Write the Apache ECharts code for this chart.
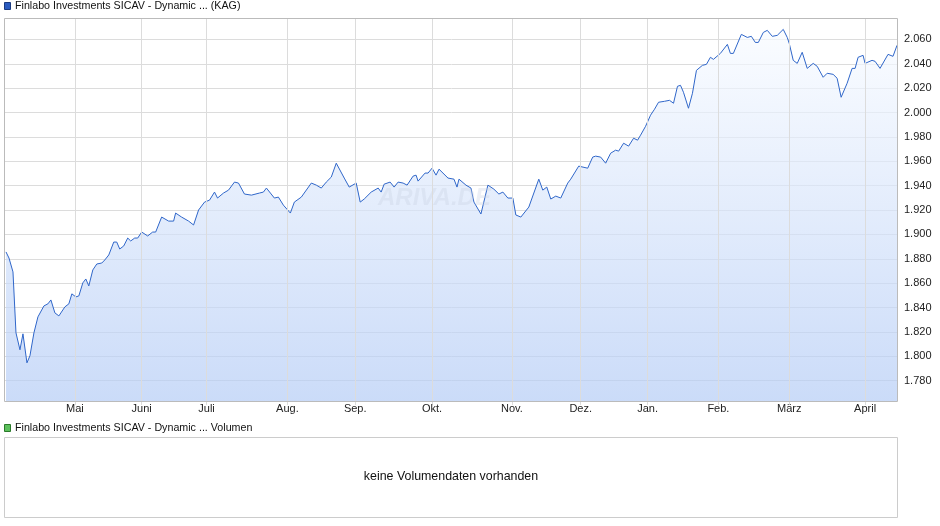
<!DOCTYPE html><html><head><meta charset="utf-8">
<script src="https://cdn.jsdelivr.net/npm/echarts@6/dist/echarts.min.js"></script>
<style>body{margin:0;background:#fff}#c{width:940px;height:526px}</style></head><body><div id="c"></div><script>
// x position along the time axis (trading-time units, 0 = first day) and fund price
const days = [-1,2,6,9,13,16,20,23,27,31,37,41,44,48,52,58,62,65,69,72,76,79,82,86,90,95,98,102,107,110,113,117,121,124,128,131,135,141,146,149,155,162,167,169,175,182,187,192,198,203,208,211,217,222,228,232,238,245,253,257,260,264,268,272,277,284,288,295,305,310,315,320,325,330,332,338,343,350,354,358,365,372,375,378,384,388,392,397,401,407,410,412,419,422,426,430,433,442,448,451,453,460,465,468,475,482,488,493,497,502,507,510,515,523,533,537,541,545,550,555,562,565,573,582,587,590,595,600,605,610,613,618,623,628,632,635,640,645,649,653,659,664,668,672,675,678,683,687,691,697,701,705,708,715,722,725,728,736,742,746,750,753,758,762,767,772,778,782,784,788,792,797,798,802,808,812,818,822,828,832,836,842,847,850,853,858,860,867,870,875,883,885,888,892];
const prices = [1.8856,1.8806,1.8692,1.8192,1.8053,1.8184,1.7946,1.8004,1.8192,1.8323,1.8413,1.8430,1.8462,1.8356,1.8331,1.8405,1.8430,1.8512,1.8487,1.8495,1.8602,1.8634,1.8577,1.8708,1.8757,1.8765,1.8790,1.8831,1.8937,1.8937,1.8880,1.8905,1.8970,1.8946,1.8970,1.8970,1.9019,1.8987,1.9019,1.9019,1.9142,1.9109,1.9109,1.9175,1.9142,1.9109,1.9077,1.9200,1.9265,1.9281,1.9347,1.9298,1.9339,1.9363,1.9429,1.9421,1.9331,1.9322,1.9339,1.9347,1.9380,1.9339,1.9298,1.9306,1.9240,1.9175,1.9265,1.9306,1.9421,1.9404,1.9380,1.9429,1.9470,1.9584,1.9584,1.9462,1.9388,1.9421,1.9265,1.9290,1.9347,1.9380,1.9347,1.9412,1.9429,1.9388,1.9429,1.9421,1.9404,1.9478,1.9486,1.9437,1.9503,1.9503,1.9543,1.9486,1.9535,1.9462,1.9453,1.9388,1.9453,1.9404,1.9380,1.9265,1.9167,1.9404,1.9371,1.9331,1.9347,1.9298,1.9298,1.9159,1.9142,1.9224,1.9453,1.9363,1.9388,1.9290,1.9314,1.9298,1.9421,1.9453,1.9560,1.9543,1.9634,1.9642,1.9634,1.9584,1.9666,1.9691,1.9683,1.9748,1.9724,1.9789,1.9773,1.9814,1.9887,1.9978,2.0027,2.0084,2.0092,2.0100,2.0076,2.0215,2.0223,2.0166,2.0035,2.0158,2.0346,2.0387,2.0395,2.0453,2.0436,2.0485,2.0559,2.0485,2.0485,2.0641,2.0616,2.0625,2.0575,2.0575,2.0657,2.0674,2.0625,2.0633,2.0682,2.0616,2.0567,2.0428,2.0403,2.0494,2.0502,2.0362,2.0403,2.0379,2.0289,2.0322,2.0313,2.0281,2.0125,2.0240,2.0362,2.0362,2.0453,2.0469,2.0403,2.0428,2.0420,2.0362,2.0477,2.0485,2.0461,2.0551];
const monthPos = [68,135,200,281,349,426,506,575,642,713,784,860];
const monthLabels = ['Mai','Juni','Juli','Aug.','Sep.','Okt.','Nov.','Dez.','Jan.','Feb.','März','April'];
const title = 'Finlabo Investments SICAV - Dynamic ... (KAG)';
const volTitle = 'Finlabo Investments SICAV - Dynamic ... Volumen';
const noVol = 'keine Volumendaten vorhanden';

const font = 'Liberation Sans, Arial, sans-serif';
const ch = echarts.init(document.getElementById('c'));
const labelMap = {}; monthPos.forEach((p,i)=>labelMap[p]=monthLabels[i]);
ch.setOption({
  animation:false,
  grid:{left:5,right:42,top:15,bottom:121},
  xAxis:{type:'value',min:-2,max:893,z:150,
    axisLine:{show:false},
    axisTick:{show:false,customValues:monthPos},
    axisLabel:{customValues:monthPos,formatter:v=>labelMap[v]||'',color:'#222',fontSize:11,fontFamily:font,margin:-2},
    splitLine:{show:true,lineStyle:{color:'#dcdcdc'}}},
  yAxis:{type:'value',position:'right',min:1.76,max:2.08,interval:0.02,
    axisLine:{show:false},axisTick:{show:false},
    axisLabel:{showMinLabel:false,showMaxLabel:false,formatter:v=>v.toFixed(3),color:'#222',fontSize:11,fontFamily:font,margin:6},
    splitLine:{lineStyle:{color:'#dcdcdc'}}},
  series:[{type:'line',data:days.map((d,i)=>[d,prices[i]]),symbol:'none',
    lineStyle:{color:'#2f66c9',width:1},
    areaStyle:{origin:'start',color:new echarts.graphic.LinearGradient(0,0,0,1,[{offset:0,color:'#f8fbff'},{offset:1,color:'#b3cbf5'}])}}],
  graphic:[
    {type:'rect',z:100,shape:{x:0,y:401,width:898,height:5},style:{fill:'#fff'}},
    {type:'rect',z:200,shape:{x:0,y:13,width:898,height:5},style:{fill:'#fff'}},
    {type:'text',z:90,left:378,top:186,style:{text:'ARIVA.DE',fill:'rgba(200,210,225,0.35)',font:'italic bold 24px '+font}},
    {type:'rect',z:201,shape:{x:4.5,y:18.5,width:893,height:383},style:{fill:'none',stroke:'#bbb',lineWidth:1}},
    {type:'rect',z:201,shape:{x:4.5,y:2.5,width:6,height:7},style:{fill:'#2a5bbf',stroke:'#1a3a80',lineWidth:1}},
    {type:'text',z:201,left:15,top:1,style:{text:title,fill:'#111',font:'10.7px '+font}},
    {type:'rect',z:201,shape:{x:4.5,y:424.5,width:6,height:7},style:{fill:'#5cc05c',stroke:'#2a7a2a',lineWidth:1}},
    {type:'text',z:201,left:15,top:423,style:{text:volTitle,fill:'#111',font:'10.7px '+font}},
    {type:'rect',z:201,shape:{x:4.5,y:437.5,width:893,height:80},style:{fill:'#fff',stroke:'#ccc',lineWidth:1}},
    {type:'text',z:202,x:451,y:477,style:{text:noVol,fill:'#111',font:'12.4px '+font,align:'center',verticalAlign:'middle'}}
  ]
});
</script></body></html>
